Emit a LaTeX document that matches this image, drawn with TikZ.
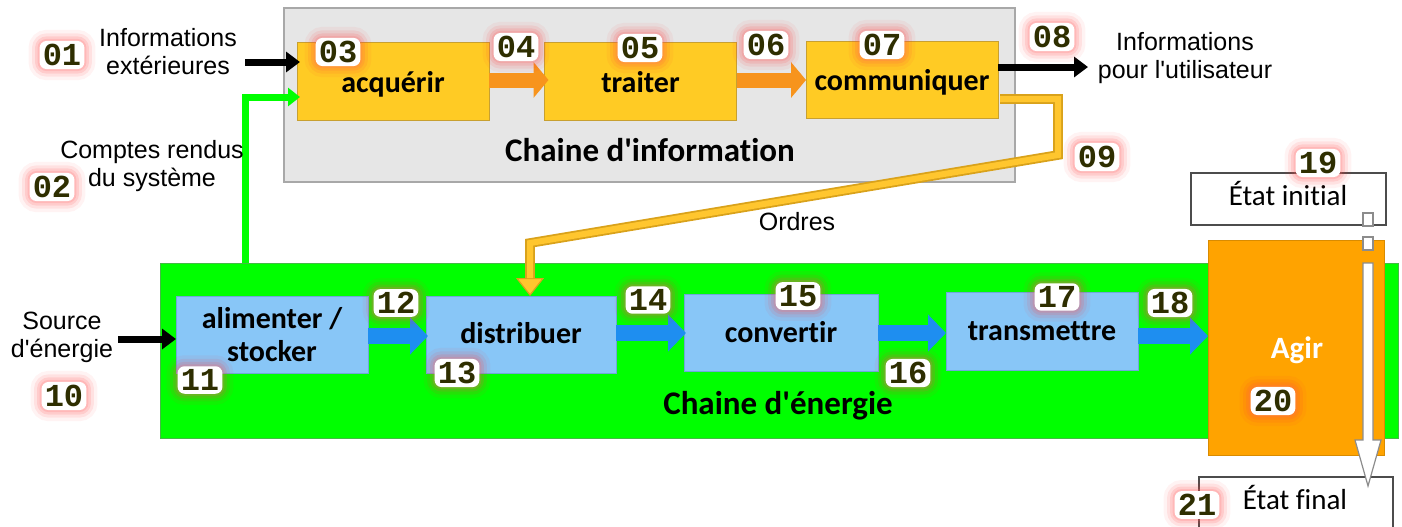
\documentclass[tikz,border=0pt]{standalone}
\usepackage{fontspec}
\setmainfont{Liberation Sans}
\newfontfamily\boxf[Ligatures=NoCommon]{Carlito}
\newfontfamily\numf{Liberation Mono}
\usetikzlibrary{arrows.meta,calc}
\definecolor{grayfill}{HTML}{E6E6E6}
\definecolor{grayline}{HTML}{A8A8A8}
\definecolor{yel}{HTML}{FFCB24}
\definecolor{yelline}{HTML}{C8A030}
\definecolor{orarrow}{HTML}{F7941D}
\definecolor{vert}{HTML}{00FF00}
\definecolor{vertline}{HTML}{44BB44}
\definecolor{bleu}{HTML}{88C6F7}
\definecolor{bleuline}{HTML}{6FA8D8}
\definecolor{bleuarrow}{HTML}{1E8EF0}
\definecolor{agirc}{HTML}{FFA300}
\definecolor{numcol}{HTML}{2E2E00}
\definecolor{ordresc}{HTML}{FFC62E}
\definecolor{ordresline}{HTML}{D9A21B}
\begin{document}
\begin{tikzpicture}[x=0.5pt,y=-0.5pt,
  plain/.style={rectangle,outer sep=0pt,inner sep=0pt},
  gbox/.style={plain,fill=grayfill,draw=grayline,line width=0.6pt},
  ybox/.style={plain,fill=yel,draw=yelline,line width=0.5pt,minimum width=96pt,minimum height=39pt,text height=14pt,text depth=3pt,font=\boxf\bfseries\fontsize{15}{18}\selectfont},
  bbox/.style={plain,fill=bleu,draw=bleuline,line width=0.4pt,minimum width=96pt,minimum height=38.5pt,align=center,font=\boxf\bfseries\fontsize{15}{16.5}\selectfont},
  ebox/.style={plain,fill=white,draw=black!70,line width=0.7pt,minimum width=97.5pt,minimum height=26pt},
  etxt/.style={inner sep=0pt,font=\boxf\fontsize{14.5}{17}\selectfont},
  ttl/.style={inner sep=0pt,font=\boxf\bfseries\fontsize{16.5}{19}\selectfont},
  lbl/.style={inner sep=0pt,align=center,font=\fontsize{12.5}{14}\selectfont},
  num/.style={font=\numf\bfseries\fontsize{16}{16}\selectfont,text=numcol,fill=white,rounded corners=3.5pt,inner sep=1.6pt,
     preaction={draw=red!80,draw opacity=0.06,line width=11pt},
     preaction={draw=red!80,draw opacity=0.09,line width=7.5pt},
     preaction={draw=red!70,draw opacity=0.14,line width=4.5pt},
     preaction={draw=red!60,draw opacity=0.2,line width=2pt}},
  blackarrow/.style={draw=black,line width=3.5pt,-{Triangle[length=7pt,width=10pt]}},
  orangearrow/.style={draw=orarrow,line width=7.5pt,-{Triangle[length=7.5pt,width=17.5pt]}},
  bluearrow/.style={draw=bleuarrow,line width=8pt,-{Triangle[length=9pt,width=18pt]}},
  greenline/.style={draw=vert,line width=3.5pt,-{Triangle[length=6pt,width=9pt]}},
  ordresout/.style={draw=ordresline,line width=4.8pt,line join=miter,-{Triangle[length=9pt,width=14pt,fill=ordresc,line width=0.6pt]}},
  ordresin/.style={draw=ordresc,line width=3pt,line join=miter},
  hollow/.style={fill=white,draw=black!45,line width=0.6pt}
]
\useasboundingbox (0,0) rectangle (1402,526);

% containers
\node[gbox,minimum width=365.5pt,minimum height=87pt] (info) at (649.5,95) {};
\node[plain,fill=vert,draw=vertline,line width=0.5pt,minimum width=619pt,minimum height=87.5pt] (energie) at (779,350.5) {};

% ordres connector
\coordinate (o1) at (1058,99);
\coordinate (o2) at (1058,155);
\coordinate (o3) at (530,243);
\node[plain,minimum width=96pt,minimum height=38.5pt] (distpos) at (521,334.5) {};
\draw[ordresout] (1000,99) -- (o1) -- (o2) -- (o3) -- (o3 |- distpos.north);
\draw[ordresin] (1000,99) -- (o1) -- (o2) -- (o3) -- ($(o3 |- distpos.north)+(0,-18)$);

% information chain boxes
\node[ybox] (acq) at (393,81) {acquérir};
\node[ybox] (tra) at (640.5,81) {traiter};
\node[ybox,minimum height=38.5pt] (com) at (902,79.5) {communiquer};
\node[ttl] (tinfo) at (650,150) {Chaine d'information};

% energy chain boxes
\node[bbox] (alim) at (272,334.5) {alimenter /\\stocker};
\node[bbox,minimum width=95pt,text height=12pt,text depth=3pt] (dist) at (521,334.5) {distribuer};
\node[bbox,minimum width=97pt] (conv) at (781,332.5) {convertir};
\node[bbox,minimum height=39pt] (trans) at (1042,331) {transmettre};
\node[ttl] (tener) at (778,406) {Chaine d'énergie};

% Agir and states
\node[plain,fill=agirc,draw=agirc!85!black,line width=0.3pt,minimum width=88pt,minimum height=107.5pt] (agir) at (1296,347.5) {};
\node[inner sep=0pt,text=white,font=\boxf\bfseries\fontsize{15.5}{18}\selectfont] (agirt) at (1297,350) {Agir};
\node[ebox] (ei) at (1288.5,199) {};
\node[etxt] at (1288,193) {État initial};
\node[ebox,minimum width=97pt,minimum height=30pt] (ef) at (1296,507) {};
\node[etxt] at (1295,497) {État final};

% white hollow arrow initial -> final
\draw[hollow] (1363,213) rectangle (1373,226);
\draw[hollow] (1363,237) rectangle (1373,250);
\draw[hollow] (1363,263) -- (1363,440) -- (1355,440) -- (1368,486) -- (1381,440) -- (1373,440) -- (1373,263) -- cycle;

% arrows information chain
\draw[orangearrow] (acq.east |- 0,80) -- ($(tra.west |- 0,80)+(4,0)$);
\draw[orangearrow] (tra.east |- 0,80) -- (com.west |- 0,80);
\coordinate (inext) at (245,62);
\draw[blackarrow] (inext) -- ($(acq.west |- 0,62)+(3,0)$);
\coordinate (gup) at (245,97);
\draw[greenline] (energie.north -| gup) -- (gup) -- ($(acq.west |- 0,97)+(3,0)$);
\coordinate (outinfo) at (1088,67);
\draw[blackarrow] (com.east |- 0,67) -- (outinfo);

% arrows energy chain
\coordinate (src) at (118,339);
\draw[blackarrow] (src) -- (alim.west |- 0,339);
\draw[bluearrow] (alim.east |- 0,336) -- ($(dist.west |- 0,336)+(2,0)$);
\draw[bluearrow] (dist.east |- 0,333) -- ($(conv.west |- 0,333)+(2,0)$);
\draw[bluearrow] (conv.east |- 0,333) -- (trans.west |- 0,333);
\draw[bluearrow] (trans.east |- 0,336) -- (agir.west |- 0,336);

% labels
\node[lbl] (l1) at (168,52) {Informations\\extérieures};
\node[lbl] (l2) at (152,166) {Comptes rendus\\du système};
\node[lbl] (l3) at (62,337) {Source\\d\textquotesingle énergie};
\node[lbl] (l4) at (1185,58) {Informations\\pour l\textquotesingle utilisateur};
\node[lbl] (l5) at (797,222) {Ordres};

% numbers
\node[num] (n01) at (62,55) {01};
\node[num] (n02) at (52,187) {02};
\node[num] (n03) at (338,52) {03};
\node[num] (n04) at (516,47) {04};
\node[num] (n05) at (640,48) {05};
\node[num] (n06) at (766,45) {06};
\node[num] (n07) at (882,45) {07};
\node[num] (n08) at (1052,37) {08};
\node[num] (n09) at (1097,157) {09};
\node[num] (n10) at (64,396) {10};
\node[num] (n11) at (200,380) {11};
\node[num] (n12) at (396,303) {12};
\node[num] (n13) at (457,373) {13};
\node[num] (n14) at (648,300) {14};
\node[num] (n15) at (798,296) {15};
\node[num] (n16) at (908,373) {16};
\node[num] (n17) at (1057,297) {17};
\node[num] (n18) at (1170,303) {18};
\node[num] (n19) at (1318,163) {19};
\node[num] (n20) at (1273,401) {20};
\node[num] (n21) at (1197,505) {21};
\end{tikzpicture}
\end{document}
